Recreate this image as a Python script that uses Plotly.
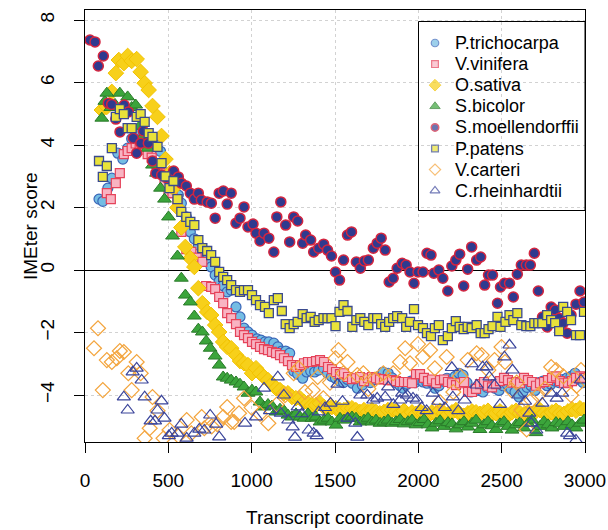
import plotly.graph_objects as go

# ---------------- data ----------------
PT_X = [84,107,137,161,197,227,256,280,304,328,
        352,376,400,429,453,477,507,537,560,578,
        608,632,656,680,704,733,757,781,805,829,
        853,877,906,930,954,978,1002,1032,1056,1080,
        1103,1133,1157,1181,1204,1228,1252,1276,1306,1330,
        1354,1378,1402,1431,1455,1479,1503,1527,1551,1575,
        1604,1634,1664,1688,1712,1740,1764,1789,1819,1843,
        1867,1890,1908,1932,1956,1980,2004,2028,2052,2076,
        2100,2124,2148,2172,2196,2220,2244,2268,2292,2316,
        2340,2364,2388,2412,2436,2460,2484,2508,2532,2556,
        2580,2604,2628,2652,2676,2700,2724,2748,2772,2796,
        2820,2844,2868,2892,2916,2940,2964,2988]
PT_Y = [2.27,2.2,2.62,2.94,3.74,3.55,3.9,4.2,4.4,4.45,
        4.3,4.1,4.05,4.0,3.8,3.52,3.0,2.56,2.4,2.14,
        1.7,1.22,1.0,0.8,0.6,0.35,0.1,-0.16,-0.35,-0.5,
        -0.7,-0.64,-1.18,-1.5,-1.86,-1.98,-2.08,-2.2,-2.24,-2.3,
        -2.3,-2.34,-2.46,-2.59,-2.59,-2.66,-3.23,-3.33,-3.46,-3.26,
        -3.23,-3.26,-3.2,-3.14,-3.3,-3.4,-3.46,-3.55,-3.6,-3.5,
        -3.62,-3.78,-3.68,-3.55,-3.6,-3.5,-3.4,-3.26,-3.3,-3.45,
        -3.6,-3.7,-3.78,-3.65,-3.55,-3.6,-3.5,-3.58,-3.62,-3.58,
        -3.78,-3.7,-3.55,-3.46,-3.5,-3.4,-3.3,-3.36,-3.6,-3.9,
        -3.8,-3.85,-3.9,-3.75,-3.7,-3.78,-3.85,-3.7,-3.65,-3.8,
        -3.9,-4.06,-3.9,-3.75,-3.7,-3.85,-3.6,-3.55,-3.7,-3.65,
        -3.55,-3.6,-3.5,-3.45,-3.4,-3.3,-3.5,-3.6]

VV_X = [131,155,185,209,233,256,280,304,328,352,
        376,400,429,453,477,501,525,555,578,608,
        638,670,704,727,757,781,805,829,853,877,
        906,930,954,978,1002,1026,1050,1074,1098,1122,
        1146,1170,1194,1218,1242,1266,1290,1314,1338,1362,
        1386,1410,1434,1458,1482,1506,1530,1554,1578,1602,
        1626,1650,1674,1698,1722,1746,1770,1794,1818,1842,
        1866,1890,1914,1938,1962,1986,2010,2034,2058,2082,
        2106,2130,2154,2178,2202,2226,2250,2274,2298,2322,
        2346,2370,2394,2418,2442,2466,2490,2514,2538,2562,
        2586,2610,2634,2658,2682,2706,2730,2754,2778,2802,
        2826,2850,2874,2898,2922,2946,2970,2994]
VV_Y = [2.46,2.27,2.78,3.1,3.71,3.81,3.9,4.05,4.0,3.85,
        3.71,3.6,3.4,3.1,2.75,2.46,2.46,2.18,1.22,0.67,
        0.58,0.4,0.26,-0.51,-0.54,-0.61,-0.86,-1.06,-1.38,-1.54,
        -1.73,-1.98,-2.08,-2.18,-2.3,-2.37,-2.46,-2.53,-2.56,-2.62,
        -2.66,-2.72,-2.82,-2.91,-3.04,-3.1,-3.04,-2.98,-2.94,-2.94,
        -2.91,-2.88,-2.94,-3.1,-3.17,-3.26,-3.33,-3.3,-3.42,-3.49,
        -3.46,-3.42,-3.55,-3.46,-3.42,-3.46,-3.5,-3.49,-3.52,-3.52,
        -3.55,-3.58,-3.58,-3.58,-3.62,-3.33,-3.33,-3.45,-3.55,-3.5,
        -3.62,-3.52,-3.5,-3.58,-3.62,-3.68,-3.62,-3.58,-3.9,-3.9,
        -3.8,-3.65,-3.58,-3.7,-3.75,-3.65,-3.55,-3.45,-3.52,-3.6,
        -3.58,-3.62,-3.45,-3.52,-3.58,-3.7,-3.62,-3.58,-3.52,-3.45,
        -3.4,-3.55,-3.62,-3.6,-3.55,-3.45,-3.4,-3.45]

OS_X = [101,131,161,185,203,233,256,280,310,334,
        358,382,405,435,459,483,507,531,555,578,
        602,632,656,680,704,733,757,781,805,829,
        853,877,906,930,954,978,1002,1026,1050,1074,
        1098,1122,1146,1170,1194,1218,1242,1266,1290,1314,
        1338,1362,1386,1410,1434,1458,1482,1506,1530,1554,
        1578,1602,1626,1650,1674,1698,1722,1746,1770,1794,
        1818,1842,1866,1890,1914,1938,1962,1986,2010,2034,
        2058,2082,2106,2130,2154,2178,2202,2226,2250,2274,
        2298,2322,2346,2370,2394,2418,2442,2466,2490,2514,
        2538,2562,2586,2610,2634,2658,2682,2706,2730,2754,
        2778,2802,2826,2850,2874,2898,2922,2946,2970,2994]
OS_Y = [5.12,5.22,5.7,6.3,6.72,6.62,6.85,6.69,6.75,6.34,
        5.98,5.76,5.25,4.9,4.29,3.55,3.1,2.62,2.0,1.36,
        0.74,0.38,0.1,-0.58,-1.06,-1.34,-1.44,-1.76,-1.98,-2.3,
        -2.46,-2.5,-2.72,-2.91,-2.98,-3.04,-3.3,-3.14,-3.3,-3.42,
        -3.52,-3.65,-3.78,-3.84,-3.94,-3.94,-4.06,-4.1,-4.1,-4.22,
        -4.26,-4.32,-4.32,-4.26,-4.38,-4.42,-4.38,-4.42,-4.48,-4.48,
        -4.42,-4.42,-4.48,-4.54,-4.48,-4.54,-4.48,-4.54,-4.58,-4.54,
        -4.48,-4.48,-4.52,-4.58,-4.5,-4.62,-4.55,-4.6,-4.52,-4.58,
        -4.66,-4.55,-4.6,-4.5,-4.58,-4.62,-4.55,-4.48,-4.6,-4.66,
        -4.58,-4.52,-4.55,-4.6,-4.55,-4.5,-4.62,-4.58,-4.52,-4.6,
        -4.65,-4.55,-4.5,-4.58,-4.62,-4.55,-4.6,-4.52,-4.48,-4.58,
        -4.62,-4.55,-4.5,-4.58,-4.6,-4.52,-4.45,-4.5,-4.42,-4.48]

SB_X = [101,119,131,155,180,209,233,256,280,304,
        328,352,376,405,429,453,477,501,525,555,
        578,602,632,656,680,704,727,751,781,805,
        829,853,877,906,930,954,978,1002,1026,1050,
        1074,1098,1122,1146,1170,1194,1218,1242,1266,1290,
        1314,1338,1362,1386,1410,1434,1458,1482,1506,1530,
        1554,1578,1602,1626,1650,1674,1698,1722,1746,1770,
        1794,1818,1842,1866,1890,1914,1938,1962,1986,2010,
        2034,2058,2082,2106,2130,2154,2178,2202,2226,2250,
        2274,2298,2322,2346,2370,2394,2418,2442,2466,2490,
        2514,2538,2562,2586,2610,2634,2658,2682,2706,2730,
        2754,2778,2802,2826,2850,2874,2898,2922,2946,2970,
        2994]
SB_Y = [4.86,5.4,5.66,5.2,5.3,5.66,5.3,5.54,5.2,5.28,
        4.6,4.3,3.9,3.36,3.1,2.62,2.27,1.7,1.09,0.45,
        -0.26,-0.8,-1.02,-1.47,-1.89,-1.98,-2.27,-2.5,-2.75,-3.04,
        -3.42,-3.46,-3.52,-3.58,-3.65,-3.74,-3.94,-3.84,-3.9,-4.22,
        -4.38,-4.3,-4.35,-4.54,-4.45,-4.5,-4.64,-4.7,-4.6,-4.7,
        -4.74,-4.6,-4.74,-4.7,-4.86,-4.8,-4.74,-4.86,-4.96,-4.74,
        -4.8,-4.74,-4.7,-4.74,-4.86,-4.8,-4.74,-4.86,-4.8,-4.9,
        -4.86,-4.8,-4.9,-4.85,-4.78,-4.92,-4.85,-4.8,-4.95,-4.88,
        -4.78,-4.95,-5.05,-4.9,-4.82,-5.0,-4.88,-4.92,-5.08,-4.95,
        -4.85,-5.02,-4.9,-4.8,-5.1,-4.95,-4.85,-4.98,-5.1,-4.92,
        -4.85,-5.0,-5.12,-4.95,-4.88,-5.05,-4.9,-4.8,-5.2,-5.0,
        -4.85,-4.95,-5.05,-4.88,-4.92,-5.0,-4.85,-4.95,-5.05,-4.9,
        -4.8]

SM_X = [30,60,80,110,140,160,185,210,235,260,
        290,310,335,350,380,405,425,460,490,510,
        532,560,578,608,632,656,680,698,733,758,
        781,805,830,853,877,906,930,954,978,1008,
        1026,1050,1074,1103,1133,1151,1175,1204,1228,1252,
        1276,1306,1324,1354,1372,1402,1432,1455,1479,1503,
        1527,1551,1575,1599,1628,1652,1676,1700,1730,1753,
        1777,1801,1825,1849,1873,1903,1927,1950,1974,1998,
        2028,2052,2076,2093,2123,2147,2177,2201,2225,2248,
        2272,2296,2320,2350,2374,2398,2421,2445,2475,2493,
        2517,2547,2570,2594,2618,2648,2672,2696,2720,2745,
        2773,2797,2821,2845,2869,2893,2916,2946,2970,2994]
SM_Y = [7.36,7.3,6.53,6.85,5.34,5.3,4.83,4.42,5.28,5.06,
        4.22,3.74,4.06,4.45,4.06,3.49,3.1,3.04,2.95,3.0,
        3.17,2.98,2.78,2.69,2.46,2.27,2.46,2.24,2.18,2.14,
        1.66,2.46,2.53,2.11,2.46,1.5,1.66,2.02,1.38,1.47,
        1.18,0.93,1.18,1.02,0.58,1.7,2.18,1.44,0.9,1.7,
        1.57,0.86,1.12,0.96,0.58,0.7,0.83,0.64,0.45,-0.06,
        -0.32,0.32,1.12,1.22,0.26,0.06,0.29,0.32,0.7,0.86,
        1.02,0.64,-0.38,-0.26,0.06,0.22,0.16,-0.06,-0.42,-0.06,
        -0.06,0.54,0.48,-0.1,0.0,-0.26,-0.67,0.13,0.32,0.51,
        -0.51,0.03,0.74,0.32,0.42,-0.48,-0.16,-0.16,-1.06,-0.54,
        -0.42,-0.42,-0.86,-0.13,0.16,0.16,0.16,0.54,-0.67,-1.5,
        -1.82,-1.18,-1.28,-1.54,-1.7,-2.02,-1.44,-1.09,-0.67,-1.02]

PP_X = [84,107,131,161,185,209,233,256,280,310,
        334,358,382,405,435,459,483,507,531,555,
        578,608,632,656,680,704,733,757,781,805,
        829,853,877,906,930,954,978,1002,1026,1050,
        1080,1103,1133,1157,1181,1204,1228,1252,1276,1306,
        1330,1354,1378,1402,1431,1455,1479,1503,1527,1551,
        1575,1604,1628,1652,1676,1700,1730,1753,1777,1801,
        1825,1849,1873,1903,1927,1950,1974,1998,2028,2052,
        2076,2099,2123,2147,2177,2201,2225,2248,2272,2296,
        2320,2350,2374,2398,2421,2445,2475,2493,2523,2547,
        2570,2594,2618,2648,2672,2696,2720,2744,2773,2797,
        2821,2845,2869,2893,2916,2946,2970,2994]
PP_Y = [3.49,2.98,3.33,3.9,4.9,5.15,4.99,4.54,4.54,4.9,
        4.99,4.74,4.38,4.26,3.94,3.42,3.0,2.62,2.85,2.27,
        1.86,1.7,1.54,1.44,0.96,0.7,0.61,0.48,0.26,-0.06,
        -0.22,-0.32,-0.48,-0.64,-0.7,-0.64,-0.64,-0.8,-0.96,-1.12,
        -1.18,-1.38,-0.96,-0.9,-1.31,-1.73,-1.86,-1.73,-1.66,-1.41,
        -1.54,-1.5,-1.66,-1.6,-1.54,-1.54,-1.54,-1.79,-1.34,-1.12,
        -1.31,-1.82,-1.6,-1.54,-1.66,-1.76,-1.54,-1.54,-1.73,-1.82,
        -1.66,-1.54,-1.47,-1.54,-1.82,-1.66,-1.25,-1.76,-1.86,-2.02,
        -2.11,-1.86,-1.76,-2.24,-2.11,-1.86,-1.63,-1.82,-1.89,-1.82,
        -1.86,-1.76,-2.02,-2.02,-1.89,-1.79,-1.5,-1.82,-1.66,-1.44,
        -1.6,-1.38,-1.76,-1.79,-1.79,-1.7,-1.7,-1.7,-1.44,-1.6,
        -1.7,-1.95,-1.18,-1.34,-1.6,-2.08,-2.08,-1.34]

VC_X = [54,78,107,131,161,191,209,233,260,280,
        310,334,358,388,405,435,471,507,560,610,
        638,700,716,760,793,829,853,877,895,924,
        954,1000,1050,1100,1150,1200,1252,1282,1320,1366,
        1396,1430,1470,1503,1521,1550,1575,1634,1670,1700,
        1740,1790,1849,1890,1921,1950,1998,2028,2070,2099,
        2129,2170,2210,2250,2296,2350,2380,2420,2457,2499,
        2520,2559,2590,2618,2650,2678,2720,2760,2797,2827,
        2870,2916,2950,2976]
VC_Y = [-2.5,-1.86,-3.84,-2.88,-2.94,-2.82,-2.59,-2.62,-3.3,-3.84,
        -2.94,-3.3,-5.38,-5.06,-4.06,-4.5,-5.38,-5.12,-5.3,-4.8,
        -5.22,-4.7,-5.06,-5.0,-4.93,-4.7,-4.38,-4.86,-4.86,-4.58,
        -4.1,-4.4,-4.6,-4.9,-4.3,-4.0,-3.3,-3.14,-3.9,-3.84,
        -3.42,-4.1,-3.6,-2.82,-2.56,-3.3,-2.94,-3.36,-3.3,-3.8,
        -3.5,-3.3,-3.3,-2.94,-2.5,-2.98,-2.37,-2.78,-2.56,-3.14,
        -4.22,-2.78,-3.9,-3.4,-2.88,-2.66,-2.72,-3.2,-2.88,-2.46,
        -2.94,-3.84,-3.6,-4.48,-5.1,-4.16,-4.0,-3.8,-3.1,-3.2,
        -3.4,-4.0,-3.7,-3.2]

CR_X = [233,256,286,310,340,358,394,420,435,459,
        477,503,520,555,578,610,656,686,716,751,
        787,805,960,1026,1074,1110,1157,1175,1193,1220,
        1246,1260,1276,1300,1342,1372,1390,1402,1440,1473,
        1515,1545,1575,1622,1634,1652,1694,1730,1753,1801,
        1819,1850,1891,1903,1932,1968,1990,2020,2050,2087,
        2120,2160,2201,2207,2240,2278,2320,2350,2386,2409,
        2427,2457,2490,2517,2547,2565,2600,2640,2666,2678,
        2708,2744,2797,2830,2863,2893,2910,2946,2976]
CR_Y = [-4.06,-4.48,-3.26,-3.14,-3.52,-4.06,-4.83,-4.83,-4.48,-4.19,
        -4.74,-5.3,-5.22,-5.22,-4.93,-5.38,-5.22,-5.09,-5.12,-4.64,
        -4.93,-5.34,-4.9,-4.7,-3.78,-4.5,-3.42,-4.58,-4.0,-4.8,
        -5.02,-5.35,-4.38,-4.6,-5.12,-5.22,-5.3,-4.54,-4.4,-4.26,
        -3.65,-4.2,-4.74,-4.9,-5.35,-4.0,-4.0,-4.16,-4.1,-4.06,
        -3.74,-4.3,-4.16,-3.94,-4.0,-4.1,-4.16,-4.4,-4.5,-3.94,
        -4.2,-4.4,-3.12,-4.06,-4.5,-4.16,-3.0,-3.68,-3.1,-3.1,
        -3.42,-3.68,-4.3,-2.78,-2.4,-3.2,-4.0,-4.2,-4.58,-4.9,
        -5.12,-4.26,-3.94,-4.1,-3.94,-5.22,-5.3,-5.44,-3.52]

X_TICKS = [0, 500, 1000, 1500, 2000, 2500, 3000]
Y_TICKS = [-4, -2, 0, 2, 4, 6, 8]
X_TITLE = "Transcript coordinate"
Y_TITLE = "IMEter score"

# name, x, y, symbol, size, fill, edge, edge width
SERIES = [
    ("P.trichocarpa", PT_X, PT_Y, "circle", 10, "#74BDE3", "#3A66B8", 1.2),
    ("V.vinifera", VV_X, VV_Y, "square", 9, "#F8B4C2", "#E5435A", 1.2),
    ("O.sativa", OS_X, OS_Y, "diamond", 12, "#F7D01A", "#F2C200", 1.0),
    ("S.bicolor", SB_X, SB_Y, "triangle-up", 12, "#3BA53B", "#2A7A2A", 1.0),
    ("S.moellendorffii", SM_X, SM_Y, "circle", 10, "#2F3A8F", "#D4253F", 1.5),
    ("P.patens", PP_X, PP_Y, "square", 9, "#E9E23A", "#3A4A8E", 1.3),
    ("V.carteri", VC_X, VC_Y, "diamond-open", 11.5, "#F3A43C", "#F3A43C", 1.2),
    ("C.rheinhardtii", CR_X, CR_Y, "triangle-up-open", 11.5, "#3A449A", "#3A449A", 1.2),
]

# ---------------- layout constants (pixels) ----------------
W, H = 608, 530
ML, MR, MT, MB = 85, 23, 10, 88
PW, PH = W - ML - MR, H - MT - MB
FONT = "Liberation Sans, Arial, Helvetica, sans-serif"

def fx(px):  # pixel x -> paper fraction
    return (px - ML) / PW

def fy(py):  # pixel y -> paper fraction
    return (H - MB - py) / PH

LEG_LEFT, LEG_RIGHT, LEG_TOP, LEG_BOTTOM = 418.5, 585, 21.5, 210.5
LEG_SYM_X, LEG_TEXT_X, LEG_ROW0, LEG_STEP = 435, 453, 43, 21.1
XTITLE_Y, YTITLE_X = 517, 30

fig = go.Figure()
for name, xs, ys, sym, size, fill, edge, lw in SERIES:
    fig.add_trace(go.Scatter(
        x=xs, y=ys, mode="markers", name=name, showlegend=False,
        marker=dict(symbol=sym, size=size, color=fill,
                    line=dict(color=edge, width=lw)),
    ))

# legend keys (drawn on an overlay axis spanning the plot area in paper units)
leg_y = [fy(LEG_ROW0 + i * LEG_STEP) for i in range(len(SERIES))]
fig.add_trace(go.Scatter(
    x=[fx(LEG_SYM_X)] * len(SERIES), y=leg_y, mode="markers",
    xaxis="x2", yaxis="y2", showlegend=False, hoverinfo="skip", cliponaxis=False,
    marker=dict(symbol=[s[3] for s in SERIES],
                size=[s[4] * 0.75 for s in SERIES],
                color=[s[5] for s in SERIES],
                line=dict(color=[s[6] for s in SERIES], width=[s[7] for s in SERIES])),
))

axis_common = dict(
    showgrid=True, gridcolor="#d2d2d2", griddash="dot", gridwidth=1,
    showline=True, mirror=True, linecolor="black", linewidth=1,
    ticks="outside", ticklen=10, tickcolor="black", tickwidth=1,
    tickfont=dict(size=19, color="black", family=FONT),
    automargin=False,
)

fig.update_xaxes(range=[0, 3000], tickvals=X_TICKS, ticktext=[str(v) for v in X_TICKS],
                 zeroline=False, ticklabelstandoff=11, **axis_common)
fig.update_yaxes(range=[-5.5, 8.32], tickvals=Y_TICKS,
                 ticktext=[("\u2212" + str(-v)) if v < 0 else str(v) for v in Y_TICKS],
                 tickangle=-90, zeroline=True, zerolinecolor="black", zerolinewidth=1,
                 ticklabelstandoff=12, **axis_common)

annotations = [dict(xref="paper", yref="paper", x=fx(LEG_TEXT_X), y=yy,
                    text=s[0], showarrow=False, xanchor="left", yanchor="middle",
                    font=dict(size=18, family=FONT, color="black"))
               for s, yy in zip(SERIES, leg_y)]
annotations.append(dict(xref="paper", yref="paper", x=0.5, y=fy(XTITLE_Y),
                        text=X_TITLE, showarrow=False, xanchor="center", yanchor="middle",
                        font=dict(size=19, family=FONT, color="black")))
annotations.append(dict(xref="paper", yref="paper", x=fx(YTITLE_X), y=0.5,
                        text=Y_TITLE, showarrow=False, textangle=-90,
                        xanchor="center", yanchor="middle",
                        font=dict(size=19, family=FONT, color="black")))

leg_box = dict(type="rect", xref="paper", yref="paper",
               x0=fx(LEG_LEFT), x1=fx(LEG_RIGHT), y0=fy(LEG_BOTTOM), y1=fy(LEG_TOP))

fig.update_layout(
    width=W, height=H,
    margin=dict(l=ML, r=MR, t=MT, b=MB),
    paper_bgcolor="white", plot_bgcolor="white",
    font=dict(family=FONT, size=19, color="black"),
    showlegend=False,
    xaxis2=dict(overlaying="x", range=[0, 1], visible=False, fixedrange=True),
    yaxis2=dict(overlaying="y", range=[0, 1], visible=False, fixedrange=True),
    shapes=[dict(leg_box, layer="between", line=dict(width=0), fillcolor="white"),
            dict(leg_box, layer="above", line=dict(color="black", width=1),
                 fillcolor="rgba(0,0,0,0)")],
    annotations=annotations,
)

fig.write_html("out.html", config={"displayModeBar": False},
               post_script="document.body.style.margin='0';document.body.style.overflow='hidden';")
